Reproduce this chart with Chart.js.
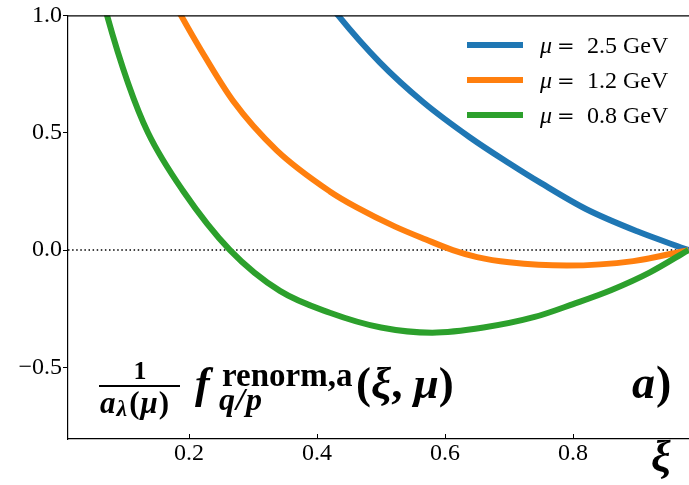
<!DOCTYPE html>
<html>
<head>
<meta charset="utf-8">
<script src="https://cdn.jsdelivr.net/npm/chart.js@4.4.1/dist/chart.umd.min.js"></script>
<style>
  html, body { margin: 0; padding: 0; background: #fff; overflow: hidden; }
  #wrap { width: 689px; height: 485px; }
</style>
</head>
<body>
<div id="wrap"><canvas id="pdfChart" width="689" height="485"></canvas></div>
<script>
// values
const xiBlue = [0.40, 0.433, 0.498, 0.566, 0.639, 0.70, 0.75, 0.82, 0.90, 0.98];
const fBlue = [1.12, 1.0, 0.80, 0.63, 0.48, 0.37, 0.285, 0.175, 0.08, 0.0];

const xiOrange = [0.15, 0.1875, 0.217, 0.269, 0.337, 0.42, 0.462, 0.522, 0.57, 0.612, 0.65, 0.70, 0.79, 0.894, 0.98];
const fOrange = [1.19, 1.0, 0.86, 0.635, 0.425, 0.25, 0.182, 0.10, 0.045, 0.0, -0.03, -0.052, -0.066, -0.047, 0.0];

const xiGreen = [0.05, 0.072, 0.105, 0.136, 0.19, 0.264, 0.342, 0.42, 0.50, 0.58, 0.66, 0.74, 0.80, 0.86, 0.92, 0.98];
const fGreen = [1.24, 1.0, 0.71, 0.50, 0.255, 0.0, -0.174, -0.267, -0.33, -0.352, -0.33, -0.285, -0.23, -0.17, -0.095, 0.0];

const muLabels = ['2.5', '1.2', '0.8'];
const lineColors = ['#1f77b4', '#ff7f0e', '#2ca02c'];

const xTicks = [0.2, 0.4, 0.6, 0.8];
const yTicks = [-0.5, 0.0, 0.5, 1.0];
const xRange = [0.011, 0.981];
const yRange = [-0.805, 1.0];

const serif = '"Liberation Serif", "Times New Roman", serif';

function toPoints(xs, ys) {
  return xs.map((x, i) => ({ x: x, y: ys[i] }));
}

// draws a run of text pieces, returns the x where it stops
function drawPieces(ctx, x, y, pieces) {
  pieces.forEach(p => {
    ctx.font = p.font;
    ctx.fillText(p.t, x, y + (p.dy || 0));
    x += ctx.measureText(p.t).width + (p.gap || 0);
  });
  return x;
}

const extras = {
  id: 'extras',
  afterDraw(chart) {
    const ctx = chart.ctx;
    const area = chart.chartArea;
    const xs = chart.scales.x;
    ctx.save();

    // top spine
    ctx.strokeStyle = '#000';
    ctx.lineWidth = 1.2;
    ctx.beginPath();
    ctx.moveTo(area.left, area.top + 0.5);
    ctx.lineTo(area.right, area.top + 0.5);
    ctx.stroke();

    // x ticks point inward
    ctx.lineWidth = 1;
    xTicks.forEach(v => {
      const px = Math.round(xs.getPixelForValue(v)) + 0.5;
      ctx.beginPath();
      ctx.moveTo(px, area.bottom);
      ctx.lineTo(px, area.bottom - 5);
      ctx.stroke();
    });

    // legend
    ctx.textBaseline = 'alphabetic';
    ctx.fillStyle = '#000';
    muLabels.forEach((m, i) => {
      const y = 45 + i * 35;
      ctx.strokeStyle = lineColors[i];
      ctx.lineWidth = 6;
      ctx.beginPath();
      ctx.moveTo(467, y);
      ctx.lineTo(523, y);
      ctx.stroke();
      ctx.font = 'italic 24px ' + serif;
      ctx.fillText('\u03bc', 540, y + 8);
      ctx.font = '21px "DejaVu Serif", serif';
      ctx.fillText('=', 557, y + 8);
      ctx.font = '24px ' + serif;
      ctx.fillText(m + ' GeV', 587, y + 8);
    });

    // formula in the lower left
    const bi = s => 'bold italic ' + s + 'px ' + serif;
    const b = s => 'bold ' + s + 'px ' + serif;
    ctx.font = b(26);
    ctx.textAlign = 'center';
    ctx.fillText('1', 140, 379);
    ctx.textAlign = 'left';
    ctx.fillRect(99, 385, 81, 2);
    drawPieces(ctx, 100, 413, [
      { t: 'a', font: bi(31), gap: 1 },
      { t: '\u03bb', font: bi(24), dy: 3, gap: 2 },
      { t: '(', font: b(31), gap: 1 },
      { t: '\u03bc', font: bi(31), gap: 1 },
      { t: ')', font: b(31) }
    ]);
    ctx.font = bi(44);
    ctx.fillText('f', 195, 398);
    ctx.font = b(33);
    ctx.fillText('renorm,a', 222, 386);
    drawPieces(ctx, 219, 410, [
      { t: 'q', font: bi(32), gap: 1 },
      { t: '/', font: bi(32), gap: 1 },
      { t: 'p', font: bi(32) }
    ]);
    drawPieces(ctx, 356, 398, [
      { t: '(', font: b(45) },
      { t: '\u03be', font: bi(45) },
      { t: ', ', font: b(45) },
      { t: '\u03bc', font: bi(45) },
      { t: ')', font: b(45) }
    ]);
    drawPieces(ctx, 632, 398, [
      { t: 'a', font: bi(46), gap: 1 },
      { t: ')', font: b(46) }
    ]);

    // x axis label
    ctx.font = bi(44);
    ctx.fillText('\u03be', 651, 471);

    ctx.restore();
  }
};

const ctx = document.getElementById('pdfChart').getContext('2d');
new Chart(ctx, {
  type: 'line',
  data: {
    datasets: [
      {
        data: toPoints(xRange, [0, 0]),
        borderColor: '#000',
        borderWidth: 1.5,
        borderDash: [1.5, 2.6],
        pointRadius: 0,
        order: 4
      },
      {
        label: '\u03bc = 2.5 GeV',
        data: toPoints(xiBlue, fBlue),
        borderColor: lineColors[0],
        borderWidth: 6,
        pointRadius: 0,
        cubicInterpolationMode: 'monotone',
        order: 3
      },
      {
        label: '\u03bc = 1.2 GeV',
        data: toPoints(xiOrange, fOrange),
        borderColor: lineColors[1],
        borderWidth: 6,
        pointRadius: 0,
        cubicInterpolationMode: 'monotone',
        order: 2
      },
      {
        label: '\u03bc = 0.8 GeV',
        data: toPoints(xiGreen, fGreen),
        borderColor: lineColors[2],
        borderWidth: 6,
        pointRadius: 0,
        cubicInterpolationMode: 'monotone',
        order: 1
      }
    ]
  },
  options: {
    responsive: false,
    animation: false,
    layout: { padding: { top: 13, right: 0, bottom: 0, left: 0 } },
    plugins: {
      legend: { display: false },
      tooltip: { enabled: false }
    },
    scales: {
      x: {
        type: 'linear',
        min: xRange[0],
        max: xRange[1],
        afterBuildTicks: scale => { scale.ticks = xTicks.map(v => ({ value: v })); },
        afterFit: scale => { scale.height = 46; },
        grid: { drawOnChartArea: false, drawTicks: false },
        border: { display: true, color: '#000', width: 1.2 },
        ticks: {
          padding: 0,
          color: '#000',
          font: { family: serif, size: 24 },
          callback: v => v.toFixed(1)
        }
      },
      y: {
        type: 'linear',
        min: yRange[0],
        max: yRange[1],
        afterBuildTicks: scale => { scale.ticks = yTicks.map(v => ({ value: v })); },
        afterFit: scale => { scale.width = 68; },
        grid: { drawOnChartArea: false, drawTicks: true, tickLength: 5, color: '#000' },
        border: { display: true, color: '#000', width: 1.2 },
        ticks: {
          padding: 1,
          color: '#000',
          font: { family: serif, size: 24 },
          callback: v => (v < 0 ? '\u2212' : '') + Math.abs(v).toFixed(1)
        }
      }
    }
  },
  plugins: [extras]
});
</script>
</body>
</html>
